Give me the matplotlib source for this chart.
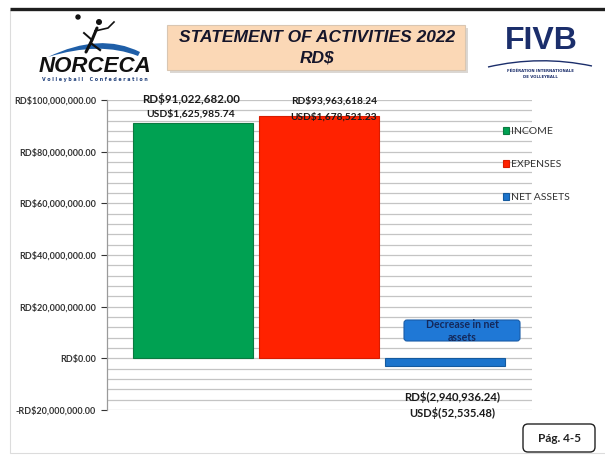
import matplotlib
matplotlib.use("Agg")
import matplotlib.pyplot as plt
from matplotlib.patches import FancyBboxPatch, Rectangle, PathPatch
from matplotlib.path import Path
from matplotlib.ticker import FuncFormatter, MultipleLocator

# data
categories = ["INCOME", "EXPENSES", "NET ASSETS"]
values_rd = [91022682.00, 93963618.24, -2940936.24]
labels_rd = ["RD$91,022,682.00", "RD$93,963,618.24", "RD$(2,940,936.24)"]
labels_usd = ["USD$1,625,985.74", "USD$1,678,521.23", "USD$(52,535.48)"]
colors = ["#00a152", "#ff2200", "#1c74cc"]
edge_colors = ["#0b7a40", "#d81c00", "#155a9e"]
title_lines = ["STATEMENT OF ACTIVITIES 2022", "RD$"]
callout = "Decrease in net\nassets"
page_label = "Pág. 4-5"

plt.rcParams["font.family"] = ["Lato", "DejaVu Sans"]
plt.rcParams["font.weight"] = "bold"

W, H = 605, 455
fig = plt.figure(figsize=(W / 100, H / 100), dpi=100)

# overlay in pixel coordinates for the slide decorations
deco = fig.add_axes([0, 0, 1, 1], zorder=0)
deco.set_xlim(0, W)
deco.set_ylim(H, 0)
deco.axis("off")

deco.add_patch(Rectangle((10, 10), 600, 443, fill=False, ec="#dcdcdc", lw=0.8))
deco.plot([10, W], [9, 9], color="#1e1e1e", lw=2.4, solid_capstyle="butt")

# title box
deco.add_patch(FancyBboxPatch((170, 28), 298, 45, boxstyle="square,pad=0",
                              fc="#b8b0a8", ec="none", alpha=0.5))
deco.add_patch(FancyBboxPatch((167, 25), 298, 45, boxstyle="square,pad=0",
                              fc="#fbd8b6", ec="#d9c6b2", lw=0.8))
deco.text(317, 38, title_lines[0], ha="center", va="center", fontsize=12.5,
          fontweight="bold", style="italic", family="Liberation Sans", color="#15152a")
deco.text(317, 58, title_lines[1], ha="center", va="center", fontsize=12.5,
          fontweight="bold", style="italic", family="Liberation Sans", color="#15152a")

# NORCECA logo (approximation)
swoosh = Path([(48, 57), (100, 32), (140, 52), (138, 56), (100, 41), (48, 57), (48, 57)],
              [Path.MOVETO, Path.CURVE3, Path.CURVE3, Path.LINETO, Path.CURVE3, Path.CURVE3,
               Path.CLOSEPOLY])
deco.add_patch(PathPatch(swoosh, fc="#1f5fa8", ec="none"))
deco.plot([86, 92, 97], [52, 40, 28], color="#111", lw=2.2, solid_capstyle="round")
deco.plot([92, 84], [40, 33], color="#111", lw=1.4)
deco.plot([95, 108, 114], [31, 28, 22], color="#111", lw=1.2)
deco.plot([92, 100], [44, 50], color="#111", lw=1.6)
deco.add_patch(plt.Circle((99, 22), 2.3, color="#111"))
deco.add_patch(plt.Circle((78, 17), 2.0, color="#111"))
deco.text(95, 66, "NORCECA", ha="center", va="center", fontsize=16, fontweight="heavy",
          style="italic", family="Liberation Sans", color="#111")
deco.text(95, 79, "V o l l e y b a l l    C o n f e d e r a t i o n", ha="center",
          va="center", fontsize=3.4, fontweight="bold", family="DejaVu Sans", color="#1f3f7a")

# FIVB logo (approximation)
deco.text(541, 41, "FIVB", ha="center", va="center", fontsize=23, fontweight="heavy",
          family="Liberation Sans", color="#1b2e6b")
arc = Path([(488, 67), (540, 55), (592, 66)], [Path.MOVETO, Path.CURVE3, Path.CURVE3])
deco.add_patch(PathPatch(arc, fc="none", ec="#1b2e6b", lw=1.0))
deco.text(540, 71, "FÉDÉRATION INTERNATIONALE", ha="center", va="center", fontsize=2.8,
          color="#1b2e6b", family="DejaVu Sans")
deco.text(540, 77, "DE VOLLEYBALL", ha="center", va="center", fontsize=2.8,
          color="#1b2e6b", family="DejaVu Sans")

# page box
deco.add_patch(FancyBboxPatch((523, 424), 72, 28, boxstyle="round,pad=0,rounding_size=5",
                              fc="white", ec="#222", lw=1.0))
deco.text(559, 438, page_label, ha="center", va="center", fontsize=8.5,
          fontweight="bold", color="#222")

# chart
ax = fig.add_axes([107 / W, 1 - 410 / H, 425 / W, 310 / H], zorder=1)
ax.patch.set_alpha(0)
x = list(range(len(categories)))
for i, cat in enumerate(categories):
    ax.bar(x[i], values_rd[i], width=0.955, color=colors[i], edgecolor=edge_colors[i],
           lw=0.8, label=cat, zorder=3)

ax.set_xlim(-0.68, 2.69)
ax.set_ylim(-20e6, 100e6)
ax.yaxis.set_major_locator(MultipleLocator(20e6))
ax.yaxis.set_minor_locator(MultipleLocator(4e6))
ax.grid(which="both", axis="y", color="#c4c4c4", lw=0.9, zorder=0)


def rd_fmt(v, pos):
    if v < 0:
        return "-RD${:,.2f}".format(-v)
    return "RD${:,.2f}".format(v)


ax.yaxis.set_major_formatter(FuncFormatter(rd_fmt))
ax.tick_params(axis="y", which="major", labelsize=6.5, colors="#333", length=4,
               width=0.8, pad=4)
ax.tick_params(axis="y", which="minor", length=0)
ax.set_xticks([])
for s in ["top", "right", "bottom"]:
    ax.spines[s].set_visible(False)
ax.spines["left"].set_color("#9a9a9a")
ax.spines["left"].set_linewidth(0.9)

# value labels: (dx px, dy px) offsets from bar end
offsets = [((-2, 24), (-2, 9)), ((15, 15), (15, -1)), ((7, -31), (7, -47))]
sizes = [(8.3, 7.5), (7.3, 7.3), (8.2, 8.0)]
for i in range(len(categories)):
    (o1, o2) = offsets[i]
    ax.annotate(labels_rd[i], (x[i], values_rd[i]), xytext=o1, textcoords="offset pixels",
                ha="center", va="center", fontsize=sizes[i][0], fontweight="bold",
                color="#1a1a1a", zorder=5)
    ax.annotate(labels_usd[i], (x[i], values_rd[i]), xytext=o2, textcoords="offset pixels",
                ha="center", va="center", fontsize=sizes[i][1], fontweight="bold",
                color="#1a1a1a", zorder=5)

# callout
deco2 = fig.add_axes([0, 0, 1, 1], zorder=2)
deco2.set_xlim(0, W)
deco2.set_ylim(H, 0)
deco2.axis("off")
deco2.add_patch(FancyBboxPatch((404, 320), 116, 21, boxstyle="round,pad=0,rounding_size=3",
                               fc="#1f78d6", ec="#1a5da8", lw=0.8))
deco2.text(462, 331, callout, ha="center", va="center", fontsize=7.6, fontweight="bold",
           color="#14285a", linespacing=1.15)

leg = ax.legend(loc="upper left", bbox_to_anchor=(498 / W, 1 - 122 / H),
                bbox_transform=fig.transFigure, frameon=False,
                prop={"size": 7.5, "weight": "normal"},
                handlelength=0.6, handleheight=0.6, handletextpad=0.12,
                labelspacing=2.3, borderpad=0)
for t in leg.get_texts():
    t.set_color("#333")

fig.savefig("out.png", dpi=100)
